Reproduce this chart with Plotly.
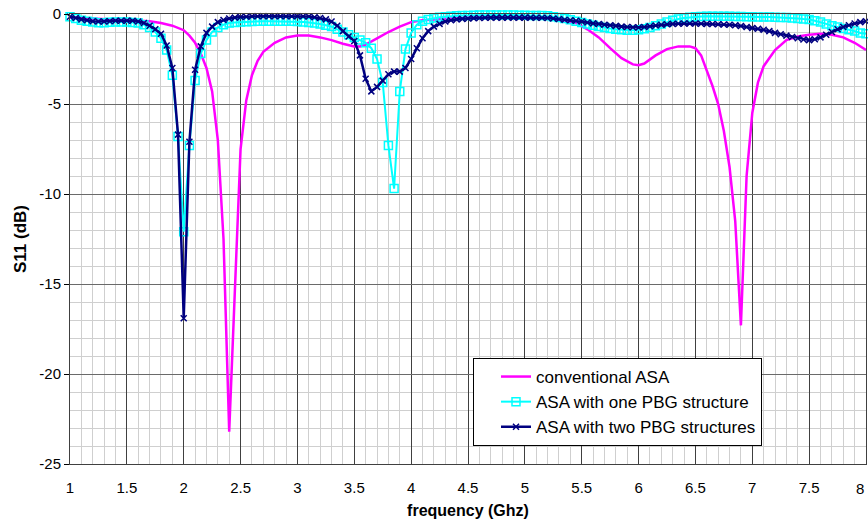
import plotly.graph_objects as go

# ---------------- data ----------------
freq_pbg = [round(1.0 + 0.05 * i, 2) for i in range(141)]  # 1.00 .. 8.00 GHz, 0.05 step

s11_one_pbg = [
    -0.15, -0.25, -0.35, -0.40, -0.45, -0.48, -0.48, -0.46, -0.45, -0.45,   # 1.00-1.45
    -0.45, -0.47, -0.50, -0.60, -0.75, -1.00, -1.35, -2.00, -3.40, -6.80,   # 1.50-1.95
    -12.1, -7.30, -3.70, -2.20, -1.45, -1.00, -0.75, -0.60, -0.50, -0.47,   # 2.00-2.45
    -0.45, -0.43, -0.42, -0.40, -0.40, -0.40, -0.40, -0.40, -0.40, -0.40,   # 2.50-2.95
    -0.42, -0.44, -0.47, -0.50, -0.55, -0.62, -0.70, -0.85, -1.00, -1.15,   # 3.00-3.45
    -1.30, -1.45, -1.60, -1.90, -2.50, -3.80, -7.30, -9.70, -4.30, -1.95,   # 3.50-3.95
    -1.05, -0.60, -0.40, -0.30, -0.22, -0.18, -0.15, -0.12, -0.10, -0.09,   # 4.00-4.45
    -0.08, -0.07, -0.06, -0.06, -0.05, -0.05, -0.05, -0.05, -0.06, -0.07,   # 4.50-4.95
    -0.07, -0.08, -0.09, -0.09, -0.10, -0.15, -0.20, -0.25, -0.32, -0.40,   # 5.00-5.45
    -0.47, -0.55, -0.62, -0.70, -0.75, -0.80, -0.85, -0.88, -0.90, -0.90,   # 5.50-5.95
    -0.88, -0.82, -0.75, -0.65, -0.55, -0.45, -0.35, -0.28, -0.22, -0.18,   # 6.00-6.45
    -0.15, -0.14, -0.13, -0.13, -0.13, -0.13, -0.13, -0.14, -0.14, -0.15,   # 6.50-6.95
    -0.15, -0.16, -0.16, -0.17, -0.18, -0.19, -0.20, -0.22, -0.25, -0.28,   # 7.00-7.45
    -0.30, -0.38, -0.45, -0.55, -0.65, -0.72, -0.80, -0.88, -0.95, -1.05,   # 7.50-7.95
    -1.10,                                                                  # 8.00
]

s11_two_pbg = [
    -0.15, -0.22, -0.30, -0.35, -0.40, -0.42, -0.42, -0.40, -0.38, -0.37,   # 1.00-1.45
    -0.37, -0.38, -0.42, -0.50, -0.65, -0.85, -1.10, -1.75, -3.00, -6.70,   # 1.50-1.95
    -16.9, -7.10, -3.10, -1.80, -1.05, -0.70, -0.45, -0.33, -0.25, -0.20,   # 2.00-2.45
    -0.17, -0.15, -0.13, -0.12, -0.12, -0.12, -0.12, -0.12, -0.12, -0.12,   # 2.50-2.95
    -0.12, -0.13, -0.14, -0.18, -0.22, -0.30, -0.42, -0.65, -0.95, -1.25,   # 3.00-3.45
    -1.50, -2.30, -3.60, -4.30, -4.05, -3.70, -3.35, -3.20, -3.20, -3.00,   # 3.50-3.95
    -2.50, -1.90, -1.35, -0.95, -0.70, -0.55, -0.42, -0.35, -0.30, -0.27,   # 4.00-4.45
    -0.25, -0.23, -0.22, -0.21, -0.20, -0.20, -0.20, -0.20, -0.20, -0.20,   # 4.50-4.95
    -0.20, -0.20, -0.21, -0.21, -0.22, -0.25, -0.28, -0.32, -0.35, -0.38,   # 5.00-5.45
    -0.42, -0.47, -0.52, -0.56, -0.60, -0.63, -0.66, -0.70, -0.72, -0.74,   # 5.50-5.95
    -0.75, -0.72, -0.68, -0.64, -0.60, -0.57, -0.55, -0.54, -0.53, -0.53,   # 6.00-6.45
    -0.53, -0.54, -0.55, -0.56, -0.57, -0.58, -0.60, -0.63, -0.67, -0.72,   # 6.50-6.95
    -0.78, -0.82, -0.88, -0.95, -1.05, -1.12, -1.20, -1.28, -1.35, -1.42,   # 7.00-7.45
    -1.45, -1.40, -1.30, -1.15, -1.00, -0.85, -0.72, -0.62, -0.53, -0.45,   # 7.50-7.95
    -0.40,                                                                  # 8.00
]

freq_conv = [
    1.0, 1.2, 1.4, 1.6, 1.7, 1.8, 1.9, 2.0, 2.05, 2.1, 2.15, 2.2, 2.25, 2.3,
    2.35, 2.4, 2.45, 2.5, 2.55, 2.6, 2.65, 2.7, 2.8, 2.9, 3.0, 3.1, 3.2, 3.3,
    3.4, 3.5, 3.55, 3.6, 3.7, 3.8, 3.9, 4.0, 4.1, 4.2, 4.5, 5.0, 5.3, 5.45,
    5.55, 5.65, 5.75, 5.85, 5.95, 6.0, 6.05, 6.15, 6.25, 6.35, 6.45, 6.5, 6.55,
    6.6, 6.65, 6.7, 6.75, 6.8, 6.85, 6.9, 6.95, 7.0, 7.05, 7.1, 7.15, 7.2, 7.3,
    7.4, 7.5, 7.6, 7.7, 7.8, 7.9, 8.0,
]
s11_conv = [
    -0.20, -0.25, -0.30, -0.35, -0.40, -0.50, -0.65, -0.90, -1.20, -1.60, -2.20, -3.00, -4.30, -7.00,
    -12.5, -23.2, -15.5, -7.50, -4.80, -3.40, -2.60, -2.10, -1.60, -1.30, -1.20, -1.20, -1.30, -1.45,
    -1.65, -1.80, -1.80, -1.70, -1.35, -1.00, -0.70, -0.45, -0.35, -0.30, -0.20, -0.20, -0.30, -0.50,
    -0.85, -1.30, -1.90, -2.45, -2.80, -2.85, -2.75, -2.30, -1.95, -1.80, -1.80, -1.90, -2.30,
    -3.10, -4.00, -5.00, -6.50, -8.50, -11.5, -17.3, -9.00, -5.50, -3.80, -2.90, -2.45, -2.00, -1.45,
    -1.25, -1.15, -1.10, -1.15, -1.30, -1.60, -2.00,
]

series_names = ["conventional ASA", "ASA with one PBG structure", "ASA with two PBG structures"]
x_tick_vals = [1, 1.5, 2, 2.5, 3, 3.5, 4, 4.5, 5, 5.5, 6, 6.5, 7, 7.5, 8]
x_tick_text = ["1", "1.5", "2", "2.5", "3", "3.5", "4", "4.5", "5", "5.5", "6", "6.5", "7", "7.5", "8"]
y_tick_vals = [0, -5, -10, -15, -20, -25]
y_tick_text = ["0", "-5", "-10", "-15", "-20", "-25"]

# ---------------- figure ----------------
FONT = "Liberation Sans, Arial, sans-serif"
# page body margin is removed (post_script), so the plot area is placed at
# x 70..866, y 14..464 of the window directly
plot_l, plot_t = 70, 14
plot_w, plot_h = 796, 450
W, H = 868, 524

fig = go.Figure()

fig.add_trace(go.Scatter(
    x=freq_conv, y=s11_conv, name=series_names[0], mode="lines",
    line=dict(color="#FF00FF", width=2.5), cliponaxis=False,
))
fig.add_trace(go.Scatter(
    x=freq_pbg, y=s11_one_pbg, name=series_names[1], mode="lines+markers",
    line=dict(color="#00FFFF", width=2),
    marker=dict(symbol="square-open", size=8, color="#00FFFF", line=dict(width=1.5, color="#00FFFF")),
    cliponaxis=False,
))
fig.add_trace(go.Scatter(
    x=freq_pbg, y=s11_two_pbg, name=series_names[2], mode="lines+markers",
    line=dict(color="#000080", width=2.5),
    marker=dict(symbol="x-thin", size=6, color="#000080", line=dict(width=1.5, color="#000080")),
    cliponaxis=False,
))

# last x label drawn right-aligned at x=8 so it stays inside the window
fig.add_annotation(
    x=x_tick_vals[-1], y=0, xref="x", yref="paper", text=x_tick_text[-1],
    showarrow=False, xanchor="right", yanchor="top", yshift=-14,
    font=dict(family=FONT, size=15, color="black"),
)

fig.update_layout(
    width=W, height=H,
    margin=dict(l=plot_l, r=W - plot_l - plot_w, t=plot_t, b=H - plot_t - plot_h, autoexpand=False),
    paper_bgcolor="white", plot_bgcolor="white",
    font=dict(family=FONT, size=15, color="black"),
    showlegend=True,
    legend=dict(
        x=(473 - plot_l) / plot_w, y=(plot_t + plot_h - 358) / plot_h,
        xanchor="left", yanchor="top",
        bgcolor="white", bordercolor="black", borderwidth=1,
        font=dict(family=FONT, size=17, color="black"),
        tracegroupgap=0, itemwidth=30, indentation=22,
    ),
)

fig.update_xaxes(
    range=[1, 8], tickmode="array", tickvals=x_tick_vals[:-1], ticktext=x_tick_text[:-1],
    automargin=False, ticklabeloverflow="allow",
    showgrid=True, gridcolor="#404040", gridwidth=1,
    minor=dict(dtick=0.1, tick0=1, showgrid=True, gridcolor="#cfcfcf", gridwidth=1),
    showline=True, linecolor="#404040", linewidth=1, mirror=True,
    ticks="", ticklabelstandoff=10, zeroline=False,
    title=dict(text="<b>frequency (Ghz)</b>", font=dict(family=FONT, size=16), standoff=9),
)
fig.update_yaxes(
    range=[-25, 0], tickmode="array", tickvals=y_tick_vals, ticktext=y_tick_text,
    automargin=False, ticklabeloverflow="allow",
    showgrid=True, gridcolor="#6a6a6a", gridwidth=1,
    minor=dict(dtick=1, tick0=0, showgrid=True, gridcolor="#cfcfcf", gridwidth=1),
    showline=True, linecolor="#404040", linewidth=1, mirror=True,
    ticks="outside", ticklen=5, tickcolor="black", zeroline=False,
    title=dict(text="<b>S11 (dB)</b>", font=dict(family=FONT, size=17), standoff=8),
)

fig.write_html(
    "out.html",
    config={"displayModeBar": False},
    post_script="document.body.style.margin='0';",
)
